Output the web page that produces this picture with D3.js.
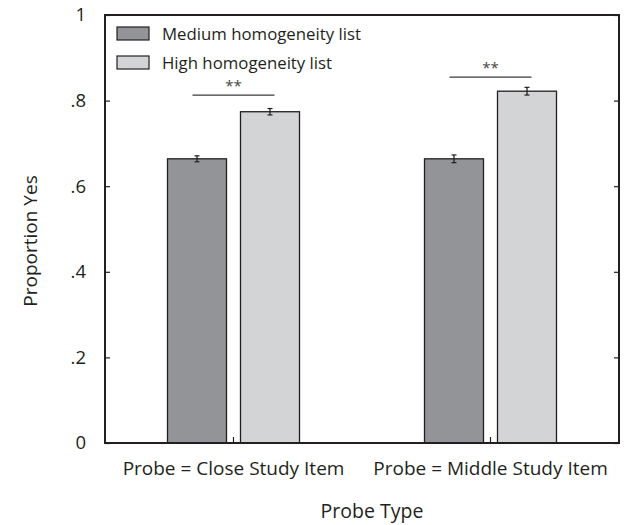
<!DOCTYPE html>
<html>
<head>
<meta charset="utf-8">
<script src="https://cdn.jsdelivr.net/npm/d3@7"></script>
<style>
  body { margin: 0; background: #fff; }
  text { font-family: "Open Sans", "Noto Sans", sans-serif; fill: #231f20; }
</style>
</head>
<body>
<div id="chart"></div>
<script>
// data
var probeTypes = ["Probe = Close Study Item", "Probe = Middle Study Item"];
var lists = ["Medium homogeneity list", "High homogeneity list"];
var mediumValues = [0.664, 0.664];
var highValues = [0.774, 0.822];
var mediumErrors = [0.007, 0.009];
var highErrors = [0.0075, 0.009];
var sigLevels = [0.813, 0.855];   // height of the ** bracket line
var sigLabels = ["**", "**"];
var yTicks = [0, 0.2, 0.4, 0.6, 0.8, 1];
var yTickLabels = ["0", ".2", ".4", ".6", ".8", "1"];

var listColors = ["#939497", "#d3d4d6"];
var ink = "#231f20";

var width = 626, height = 525;
var margin = {top: 15, right: 7, bottom: 82, left: 105};
var w = width - margin.left - margin.right;
var h = height - margin.top - margin.bottom;

var svg = d3.select("#chart").append("svg")
  .attr("width", width)
  .attr("height", height);

var g = svg.append("g")
  .attr("transform", "translate(" + margin.left + "," + margin.top + ")");

var x = d3.scaleBand().domain(probeTypes).range([0, w]).padding(0);
var y = d3.scaleLinear().domain([0, 1]).range([h, 0]);

var barW = 59, gap = 14;
// offset of each list's bar from the group centre
var sub = d3.scaleOrdinal().domain(lists).range([-gap / 2 - barW, gap / 2]);

var rows = [];
probeTypes.forEach(function(p, i){
  rows.push({probe: p, list: lists[0], value: mediumValues[i], err: mediumErrors[i]});
  rows.push({probe: p, list: lists[1], value: highValues[i], err: highErrors[i]});
});

// bars
g.selectAll("rect.bar").data(rows).enter().append("rect")
  .attr("class", "bar")
  .attr("x", function(d){ return x(d.probe) + x.bandwidth() / 2 + sub(d.list); })
  .attr("y", function(d){ return y(d.value); })
  .attr("width", barW)
  .attr("height", function(d){ return h - y(d.value); })
  .attr("fill", function(d){ return listColors[lists.indexOf(d.list)]; })
  .attr("stroke", ink)
  .attr("stroke-width", 1.3);

// error bars
var eb = g.selectAll("g.err").data(rows).enter().append("g")
  .attr("class", "err")
  .attr("transform", function(d){
    return "translate(" + (x(d.probe) + x.bandwidth() / 2 + sub(d.list) + barW / 2) + ",0)";
  });
eb.append("line")
  .attr("y1", function(d){ return y(d.value - d.err); })
  .attr("y2", function(d){ return y(d.value + d.err); })
  .attr("stroke", ink).attr("stroke-width", 1.3);
eb.append("line")
  .attr("x1", -2.5).attr("x2", 2.5)
  .attr("y1", function(d){ return y(d.value - d.err); })
  .attr("y2", function(d){ return y(d.value - d.err); })
  .attr("stroke", ink).attr("stroke-width", 1.2);
eb.append("line")
  .attr("x1", -2.5).attr("x2", 2.5)
  .attr("y1", function(d){ return y(d.value + d.err); })
  .attr("y2", function(d){ return y(d.value + d.err); })
  .attr("stroke", ink).attr("stroke-width", 1.2);

// significance brackets
var sig = g.selectAll("g.sig").data(probeTypes).enter().append("g")
  .attr("class", "sig")
  .attr("transform", function(d){ return "translate(" + (x(d) + x.bandwidth() / 2) + ",0)"; });
sig.append("line")
  .attr("x1", -41).attr("x2", 41)
  .attr("y1", function(d, i){ return y(sigLevels[i]); })
  .attr("y2", function(d, i){ return y(sigLevels[i]); })
  .attr("stroke", "#3a3a3c").attr("stroke-width", 1.2);
sig.append("text")
  .attr("y", function(d, i){ return y(sigLevels[i]) - 4; })
  .attr("text-anchor", "middle")
  .style("font-size", "15px")
  .style("fill", "#444")
  .text(function(d, i){ return sigLabels[i]; });

// frame
g.append("rect")
  .attr("width", w).attr("height", h)
  .attr("fill", "none")
  .attr("stroke", ink).attr("stroke-width", 2);

// y ticks (inside, both sides)
var yAxis = d3.axisLeft(y).tickValues(yTicks)
  .tickSize(-5).tickPadding(19)
  .tickFormat(function(d, i){ return yTickLabels[i]; });
var ya = g.append("g").call(yAxis);
ya.select(".domain").remove();
ya.selectAll("line").attr("stroke", ink).attr("stroke-width", 1.2);
ya.selectAll("text").style("font-size", "18.5px").style("fill", ink)
  .attr("font-family", null);

var yAxisR = d3.axisRight(y).tickValues(yTicks).tickSize(-5).tickFormat("");
var yr = g.append("g").attr("transform", "translate(" + w + ",0)").call(yAxisR);
yr.select(".domain").remove();
yr.selectAll("line").attr("stroke", ink).attr("stroke-width", 1.2);

// x axis: small inward tick at each group centre
var xAxis = d3.axisBottom(x).tickSize(-6).tickPadding(19);
var xa = g.append("g").attr("transform", "translate(0," + h + ")").call(xAxis);
xa.select(".domain").remove();
xa.selectAll("line").attr("stroke", ink).attr("stroke-width", 1.2);
xa.selectAll("text").style("font-size", "19px").style("fill", ink)
  .attr("font-family", null);

// axis titles
svg.append("text")
  .attr("transform", "translate(37,241) rotate(-90)")
  .attr("text-anchor", "middle")
  .style("font-size", "19px")
  .text("Proportion Yes");

svg.append("text")
  .attr("x", margin.left + w / 2 + 10)
  .attr("y", 518)
  .attr("text-anchor", "middle")
  .style("font-size", "19.5px")
  .text("Probe Type");

// legend
var lg = g.selectAll("g.legend").data(lists).enter().append("g")
  .attr("class", "legend")
  .attr("transform", function(d, i){ return "translate(12," + (12 + i * 29) + ")"; });
lg.append("rect")
  .attr("width", 32).attr("height", 13)
  .attr("fill", function(d, i){ return listColors[i]; })
  .attr("stroke", ink).attr("stroke-width", 1.2);
lg.append("text")
  .attr("x", 45).attr("y", 13)
  .style("font-size", "16.8px")
  .text(function(d){ return d; });
</script>
</body>
</html>
